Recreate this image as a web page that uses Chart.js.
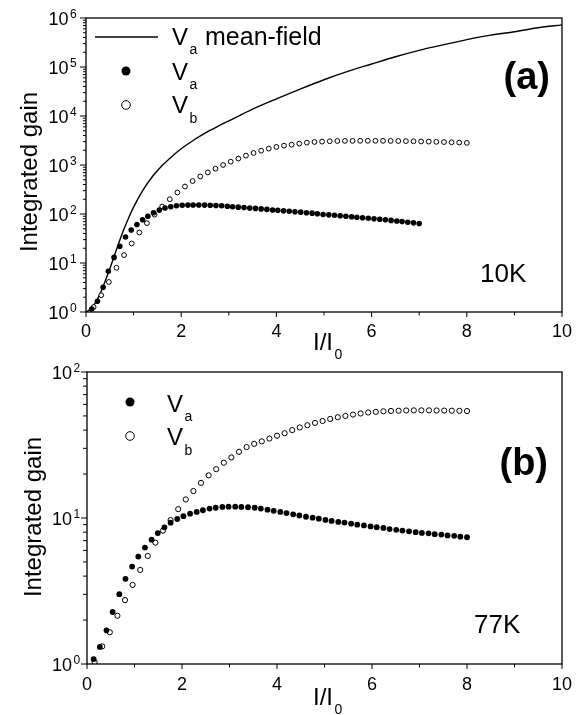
<!DOCTYPE html>
<html><head><meta charset="utf-8">
<script src="https://cdn.jsdelivr.net/npm/chart.js@4.4.0/dist/chart.umd.min.js"></script>
<style>
html,body{margin:0;padding:0;background:#fff;}
#wrap{position:relative;width:584px;height:715px;overflow:hidden;background:#fff;}
canvas{position:absolute;left:0;}
</style></head><body>
<div id="wrap">
<canvas id="c1" width="584" height="360" style="top:0"></canvas>
<canvas id="c2" width="584" height="355" style="top:360px"></canvas>
</div>
<script>
// ---------- data ----------
// Panel (a), 10K
const aVaX = [0.12,0.24,0.36,0.47,0.59,0.71,0.83,0.95,1.07,1.19,1.30,1.42,1.54,1.66,1.78,1.90,2.02,2.14,2.25,2.37,2.49,2.61,2.73,2.85,2.97,3.08,3.20,3.32,3.44,3.56,3.68,3.80,3.92,4.03,4.15,4.27,4.39,4.51,4.63,4.75,4.86,4.98,5.10,5.22,5.34,5.46,5.58,5.69,5.81,5.93,6.05,6.17,6.29,6.41,6.53,6.64,6.76,6.88,7.00];
const aVaY = [1.15,1.66,3.2,6.8,13,22,34,47,61,76,90,106,120,133,141,147,150,152,153,153,152,151,149,147,144,141,138,135,132,130,127,124,121,119,116,114,111,109,106,104,101,98,96,94,92,90,88,86,84,82,80,78,76,74,72,70,68,66,64];
const aVbX = [0.16,0.32,0.48,0.64,0.80,0.96,1.12,1.28,1.44,1.60,1.76,1.92,2.08,2.24,2.40,2.56,2.72,2.88,3.04,3.20,3.36,3.52,3.68,3.84,4.00,4.16,4.32,4.48,4.64,4.80,4.96,5.12,5.28,5.44,5.60,5.76,5.92,6.08,6.24,6.40,6.56,6.72,6.88,7.04,7.20,7.36,7.52,7.68,7.84,8.00];
const aVbY = [1.26,2.2,4.1,8.0,14.5,25,42,65,97,142,200,275,364,470,583,705,839,1000,1170,1350,1550,1760,1960,2160,2340,2480,2600,2730,2860,2950,3000,3050,3090,3100,3110,3120,3120,3120,3110,3100,3090,3070,3050,3020,3000,2970,2940,2910,2870,2830];
const mfX = [0,0.1,0.2,0.3,0.4,0.5,0.6,0.7,0.8,0.9,1.0,1.2,1.4,1.6,1.8,2.0,2.25,2.5,2.75,3.0,3.5,4.0,4.5,5.0,5.5,6.0,6.5,7.0,7.5,8.0,8.5,9.0,9.5,10];
const mfY = [1,1.17,1.55,2.4,4.17,7.6,14.5,27.5,50,85,138,309,589,977,1480,2140,3160,4470,6030,7940,13800,22400,35500,55000,81300,115000,162000,219000,282000,363000,447000,525000,631000,724000];
// Panel (b), 77K
const bVaX = [0.14,0.27,0.41,0.54,0.68,0.81,0.95,1.08,1.22,1.36,1.49,1.63,1.76,1.90,2.03,2.17,2.31,2.44,2.58,2.71,2.85,2.98,3.12,3.25,3.39,3.53,3.66,3.80,3.93,4.07,4.20,4.34,4.47,4.61,4.75,4.88,5.02,5.15,5.29,5.42,5.56,5.69,5.83,5.97,6.10,6.24,6.37,6.51,6.64,6.78,6.92,7.05,7.19,7.32,7.46,7.59,7.73,7.86,8.00];
const bVaY = [1.08,1.31,1.70,2.27,3.01,3.83,4.65,5.44,6.27,7.11,7.89,8.63,9.29,9.84,10.3,10.7,11.0,11.3,11.6,11.75,11.9,11.95,11.95,11.9,11.85,11.75,11.6,11.4,11.2,11.0,10.8,10.6,10.4,10.2,10.05,9.9,9.7,9.55,9.4,9.3,9.15,9.0,8.9,8.75,8.65,8.55,8.4,8.3,8.2,8.1,8.0,7.9,7.85,7.75,7.7,7.6,7.55,7.45,7.38];
const bVbX = [0.16,0.32,0.48,0.64,0.80,0.96,1.12,1.28,1.44,1.60,1.76,1.92,2.08,2.24,2.40,2.56,2.72,2.88,3.04,3.20,3.36,3.52,3.68,3.84,4.00,4.16,4.32,4.48,4.64,4.80,4.96,5.12,5.28,5.44,5.60,5.76,5.92,6.08,6.24,6.40,6.56,6.72,6.88,7.04,7.20,7.36,7.52,7.68,7.84,8.00];
const bVbY = [1.03,1.32,1.65,2.14,2.74,3.48,4.41,5.5,6.78,8.19,9.68,11.5,13.4,15.3,17.4,19.6,21.6,23.9,26,28.4,30.6,32.2,33.5,35,36.6,38.1,40,41.7,43.2,44.8,46.2,47.7,49,50,51.1,52,52.8,53.3,53.8,54.1,54.3,54.5,54.6,54.6,54.6,54.5,54.4,54.3,54.2,54.0];
// axis ticks
const xTicks = [0,1,2,3,4,5,6,7,8,9,10];
const xTickLabels = ['0','2','4','6','8','10'];
const aDecades = [0,1,2,3,4,5,6];
const bDecades = [0,1,2];

// ---------- helpers ----------
const FONT = '"Liberation Sans", Arial, Helvetica, sans-serif';
function pts(xs, ys){ return xs.map((x,i)=>({x:x, y:ys[i]})); }
function filledSet(xs, ys, r){ return {data: pts(xs,ys), pointRadius:r, pointBackgroundColor:'#000', pointBorderColor:'#000', pointBorderWidth:0, showLine:false, pointHoverRadius:r}; }
function openSet(xs, ys, r){ return {data: pts(xs,ys), pointRadius:r, pointBackgroundColor:'#fff', pointBorderColor:'#000', pointBorderWidth:1, showLine:false, pointHoverRadius:r}; }

function sub(ctx, main, s, x, y, mainSize, subSize, dy, bold){
  ctx.font = (bold?'bold ':'') + mainSize + 'px ' + FONT;
  ctx.textAlign = 'left'; ctx.textBaseline = 'alphabetic';
  ctx.fillText(main, x, y);
  const w = ctx.measureText(main).width;
  ctx.font = subSize + 'px ' + FONT;
  ctx.fillText(s, x + w + 1.5, y + dy);
}

function makeDecor(cfg){
  return {
    id: 'decor',
    afterDraw(chart){
      const ctx = chart.ctx, a = chart.chartArea, xs = chart.scales.x, ys = chart.scales.y;
      ctx.save();
      ctx.fillStyle = '#000'; ctx.strokeStyle = '#000';
      // frame
      ctx.lineWidth = 1.3;
      ctx.strokeRect(a.left, a.top, a.right - a.left, a.bottom - a.top);
      // x ticks
      ctx.lineWidth = 1;
      ctx.beginPath();
      xTicks.forEach(v => {
        const px = xs.getPixelForValue(v);
        const L = (v % 2 === 0) ? 5 : 3.5;
        ctx.moveTo(px, a.bottom); ctx.lineTo(px, a.bottom + L);
      });
      // y ticks (log)
      const dec = cfg.decades;
      dec.forEach((d, i) => {
        const maxM = (i === dec.length - 1) ? 1 : 9;
        for (let m = 1; m <= maxM; m++) {
          const py = ys.getPixelForValue(m * Math.pow(10, d));
          const L = (m === 1) ? 6 : cfg.minorLen;
          ctx.moveTo(a.left, py); ctx.lineTo(a.left - L, py);
        }
      });
      ctx.stroke();
      // x tick labels
      ctx.font = '18px ' + FONT; ctx.textAlign = 'center'; ctx.textBaseline = 'alphabetic';
      xTickLabels.forEach(t => {
        const px = xs.getPixelForValue(parseFloat(t));
        ctx.fillText(t, px, cfg.xLabelBase);
      });
      // y tick labels 10^n
      dec.forEach(d => {
        const py = ys.getPixelForValue(Math.pow(10, d));
        ctx.font = '18px ' + FONT; ctx.textAlign = 'right';
        ctx.fillText('10', cfg.yLabelRight, py + 7);
        ctx.font = '12px ' + FONT; ctx.textAlign = 'left';
        ctx.fillText(String(d), cfg.yLabelRight + 1.5, py - 0.5);
      });
      // axis titles
      sub(ctx, 'I/I', '0', cfg.xt[0], cfg.xt[1], 24, 14, 8.5);
      ctx.save();
      ctx.translate(cfg.yt[0], cfg.yt[1]); ctx.rotate(-Math.PI/2);
      ctx.font = '24px ' + FONT; ctx.textAlign = 'center'; ctx.textBaseline = 'alphabetic';
      ctx.fillText('Integrated gain', 0, 0);
      ctx.restore();
      // panel letter & temperature
      ctx.font = 'bold 38px ' + FONT; ctx.textAlign = 'right';
      ctx.fillText(cfg.letter, cfg.letterPos[0], cfg.letterPos[1]);
      ctx.font = '26px ' + FONT; ctx.textAlign = 'left';
      ctx.fillText(cfg.temp, cfg.tempPos[0], cfg.tempPos[1]);
      // legend
      cfg.legend.forEach(it => {
        if (it.kind === 'line') {
          ctx.lineWidth = 1.3; ctx.beginPath();
          ctx.moveTo(it.mx - 31, it.my); ctx.lineTo(it.mx + 32, it.my); ctx.stroke();
        } else {
          ctx.beginPath(); ctx.arc(it.mx, it.my, it.r, 0, Math.PI*2);
          if (it.kind === 'filled') { ctx.fill(); }
          else { ctx.fillStyle = '#fff'; ctx.fill(); ctx.fillStyle = '#000'; ctx.lineWidth = 1; ctx.stroke(); }
        }
        sub(ctx, 'V', it.s, it.tx, it.ty, 24, 14, it.sdy);
        if (it.extra) {
          ctx.font = '25px ' + FONT; ctx.textAlign = 'left';
          ctx.fillText(it.extra, it.ex, it.ty);
        }
      });
      ctx.restore();
    }
  };
}

function scales(ymin, ymax){
  return {
    x: {type:'linear', min:0, max:10, display:false},
    y: {type:'logarithmic', min:ymin, max:ymax, display:false}
  };
}

// ---------- panel (a) ----------
new Chart(document.getElementById('c1'), {
  type: 'scatter',
  data: { datasets: [
    Object.assign(filledSet(aVaX, aVaY, 2.8), {label:'Va'}),
    Object.assign(openSet(aVbX, aVbY, 2.4), {label:'Vb'}),
    {label:'Va mean-field', data: pts(mfX, mfY), showLine:true, pointRadius:0, borderColor:'#000', borderWidth:1.4, cubicInterpolationMode:'monotone', fill:false}
  ]},
  options: {
    responsive:false, animation:false, devicePixelRatio:1,
    layout: {padding:{left:86, top:18, right:22, bottom:48}},
    plugins: {legend:{display:false}, tooltip:{enabled:false}},
    scales: scales(1, 1e6)
  },
  plugins: [makeDecor({
    decades: aDecades, minorLen: 3, xLabelBase: 337, yLabelRight: 68.5,
    xt: [313, 350], yt: [37, 172],
    letter: '(a)', letterPos: [550, 89], temp: '10K', tempPos: [480, 282],
    legend: [
      {kind:'line', mx:126, my:37, tx:172, ty:45, s:'a', sdy:9, extra:'mean-field', ex:205},
      {kind:'filled', mx:126, my:71, r:4.5, tx:172, ty:80, s:'a', sdy:8.5},
      {kind:'open', mx:126, my:105, r:4.3, tx:172, ty:113, s:'b', sdy:10}
    ]
  })]
});

// ---------- panel (b) ----------
new Chart(document.getElementById('c2'), {
  type: 'scatter',
  data: { datasets: [
    Object.assign(filledSet(bVaX, bVaY, 2.9), {label:'Va'}),
    Object.assign(openSet(bVbX, bVbY, 2.6), {label:'Vb'})
  ]},
  options: {
    responsive:false, animation:false, devicePixelRatio:1,
    layout: {padding:{left:87, top:12, right:22, bottom:51}},
    plugins: {legend:{display:false}, tooltip:{enabled:false}},
    scales: scales(1, 100)
  },
  plugins: [makeDecor({
    decades: bDecades, minorLen: 4, xLabelBase: 330, yLabelRight: 72,
    xt: [313, 345], yt: [41, 157],
    letter: '(b)', letterPos: [548, 115], temp: '77K', tempPos: [474, 273],
    legend: [
      {kind:'filled', mx:130, my:42, r:4.5, tx:167, ty:52, s:'a', sdy:9},
      {kind:'open', mx:130, my:76, r:4.3, tx:167, ty:85, s:'b', sdy:10}
    ]
  })]
});
</script>
</body></html>
